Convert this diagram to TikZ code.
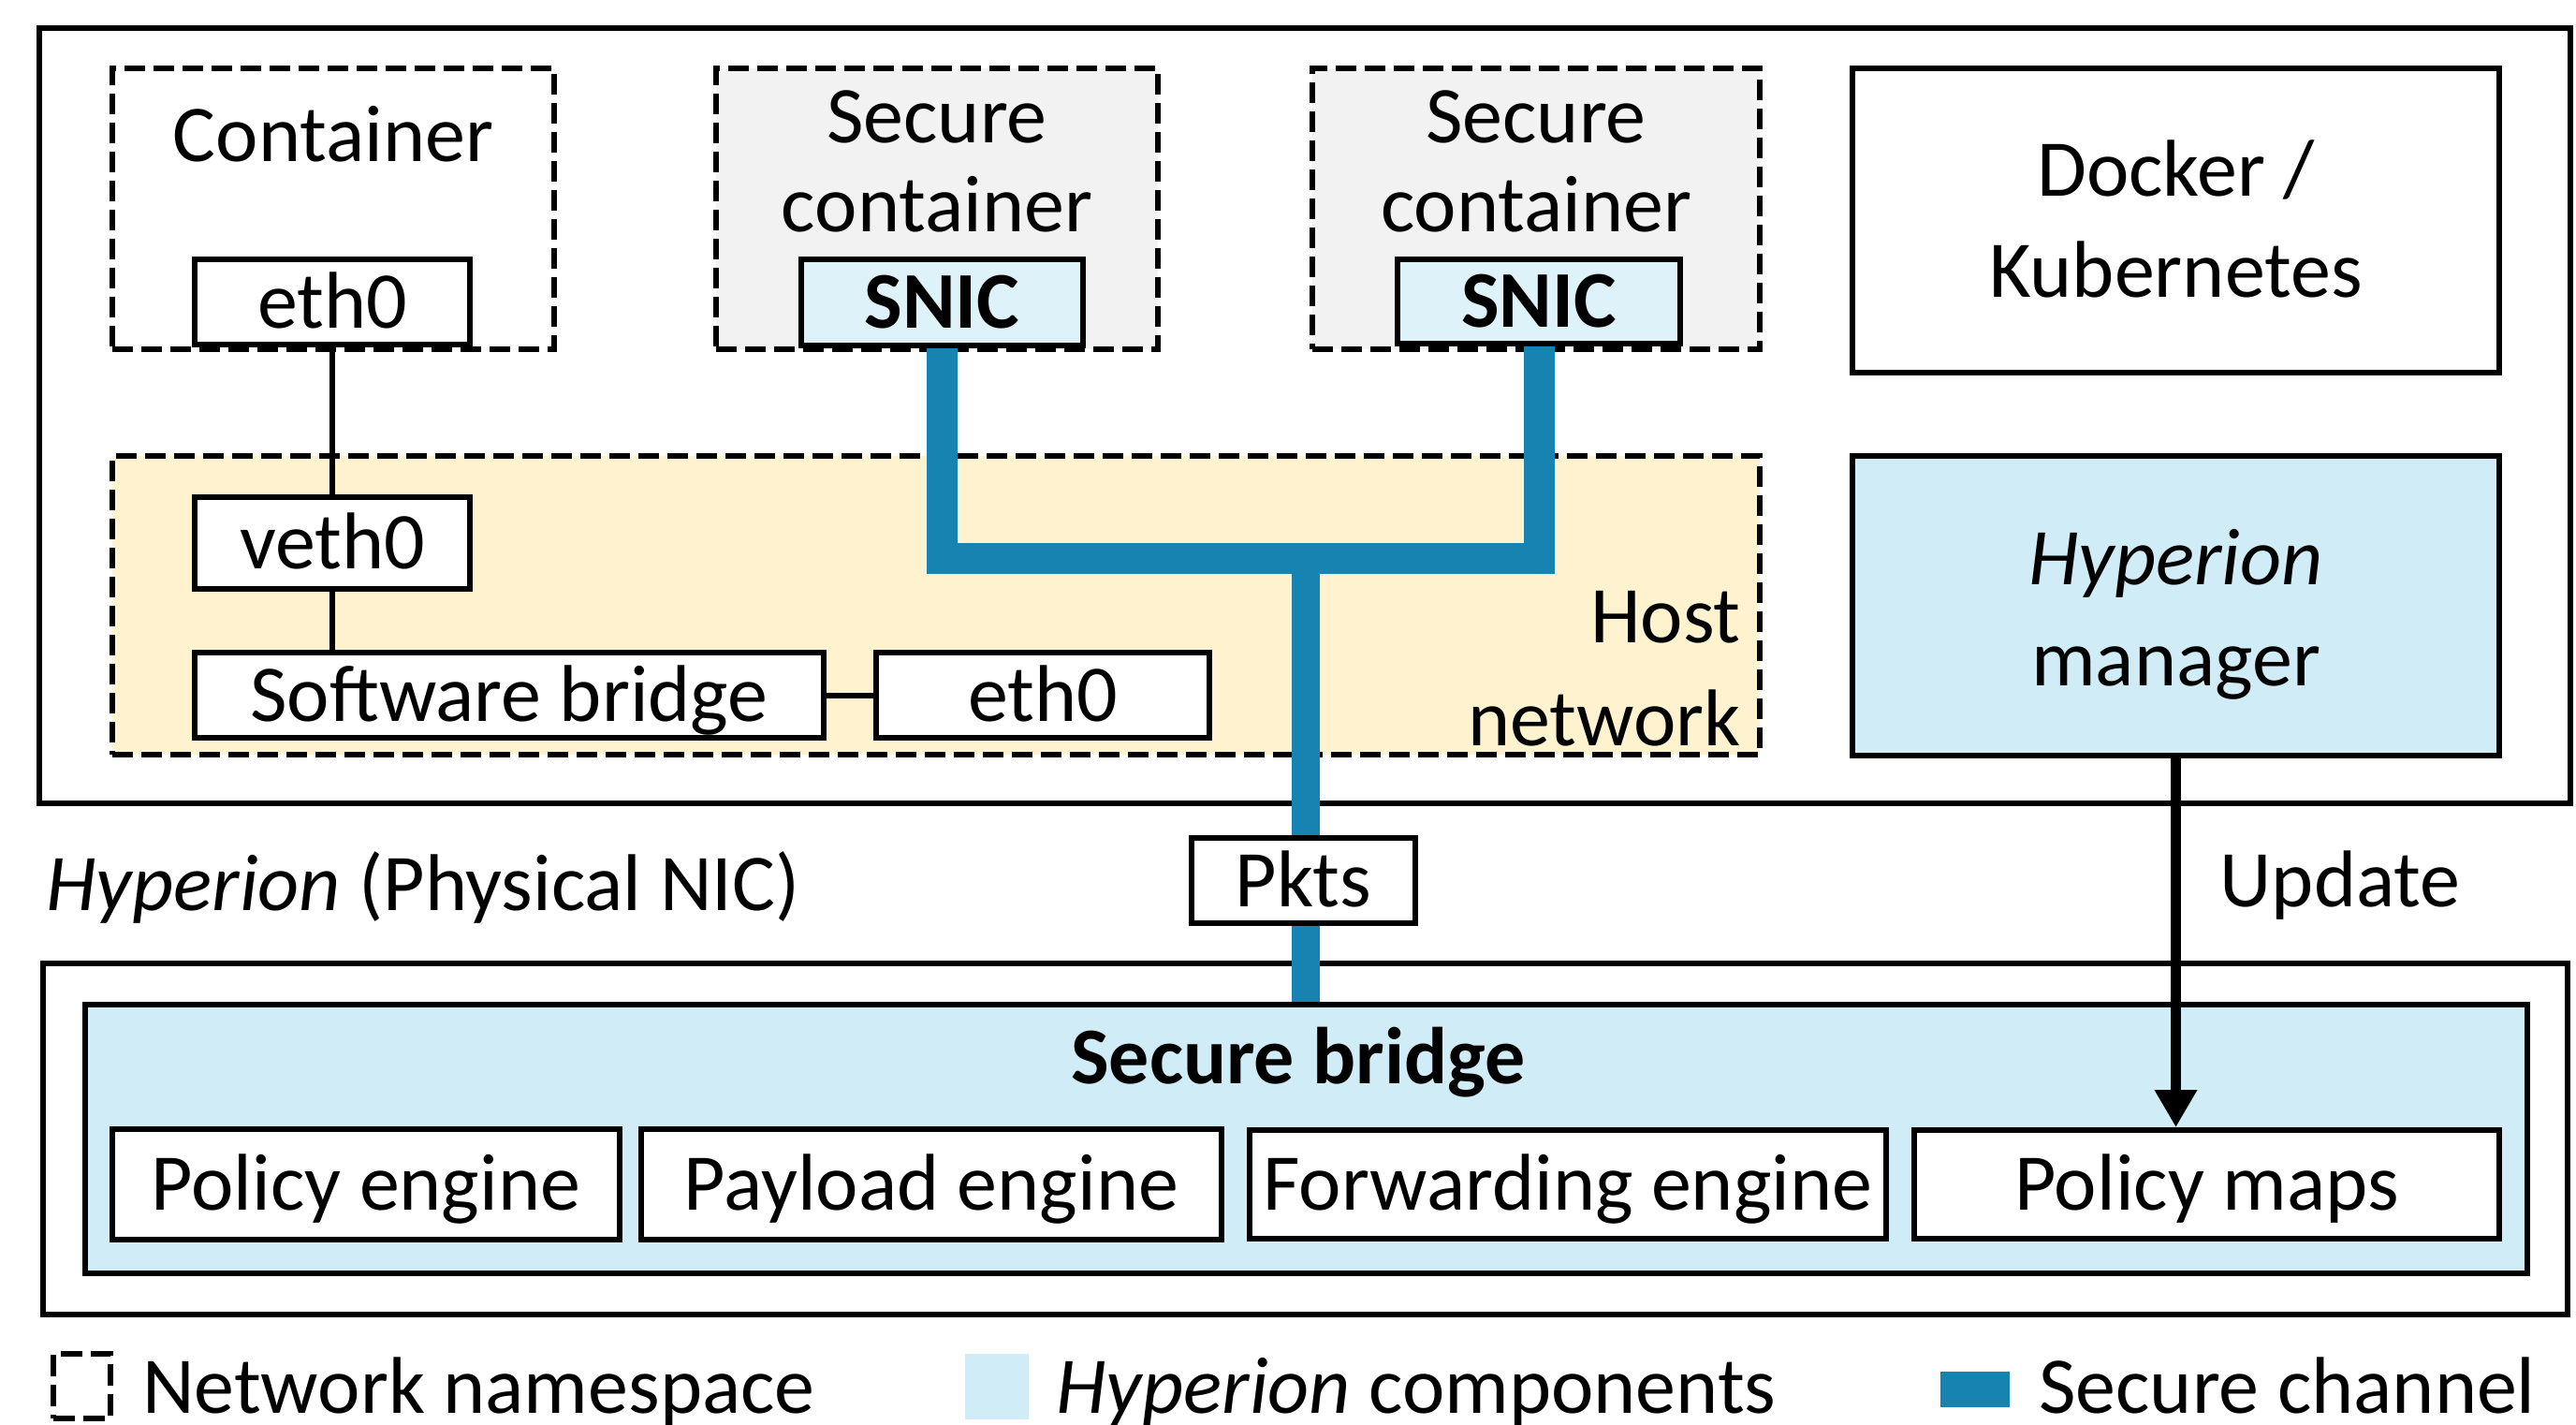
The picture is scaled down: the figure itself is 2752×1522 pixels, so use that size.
\documentclass[tikz,border=0pt]{standalone}
\usepackage{fontspec}
\setmainfont{Carlito}
\usetikzlibrary{arrows.meta}
\pgfdeclarelayer{bottom}
\pgfdeclarelayer{chanlayer}
\pgfsetlayers{bottom,chanlayer,main}
\definecolor{chanblue}{RGB}{23,131,176}
\definecolor{hyplight}{RGB}{208,236,247}
\definecolor{snicfill}{RGB}{222,242,250}
\definecolor{hostfill}{RGB}{255,242,206}
\definecolor{secgray}{RGB}{242,242,242}
\newcommand\fsz{\fontsize{86pt}{104pt}\selectfont}
\begin{document}
\begin{tikzpicture}[x=1pt,y=-1pt,
  box/.style={draw, line width=6pt, fill=white, inner sep=0pt, font=\fsz,
              text height=65pt, text depth=10pt},
  nsbox/.style={draw, line width=6pt, dash pattern=on 22pt off 9pt, inner sep=0pt},
  frame/.style={draw, line width=6pt, inner sep=0pt},
  lbl/.style={inner sep=0pt, font=\fsz},
  wire/.style={line width=6pt},
  chan/.style={line width=33pt, draw=chanblue, line join=miter},
  upd/.style={line width=11pt, -{Triangle[width=43pt,length=40pt]}},
]
\useasboundingbox (0,0) rectangle (2752,1522);

% host machine and NIC frames, namespaces
\begin{pgfonlayer}{bottom}
  \node[frame, minimum width=2704pt, minimum height=828pt] (host) at (1394,444) {};
  \node[frame, minimum width=2697pt, minimum height=375pt] (nic) at (1394.5,1216.5) {};
  \node[nsbox, fill=white, minimum width=472pt, minimum height=300pt] (cont) at (356,223) {};
  \node[nsbox, fill=secgray, minimum width=472pt, minimum height=300pt] (sc1) at (1001,223) {};
  \node[nsbox, fill=secgray, minimum width=478pt, minimum height=300pt] (sc2) at (1641,223) {};
  \node[nsbox, fill=hostfill, minimum width=1760pt, minimum height=319pt] (hostnet) at (1000,646.5) {};
\end{pgfonlayer}

% container interfaces and host network
\node[box, minimum width=294pt, minimum height=91pt] (eth0c) at (355,322.5) {eth0};
\node[box, fill=snicfill, font=\fsz\bfseries, minimum width=301pt, minimum height=92pt] (snic1) at (1006.5,323) {SNIC};
\node[box, fill=snicfill, font=\fsz\bfseries, minimum width=302pt, minimum height=90pt] (snic2) at (1644,322) {SNIC};
\node[box, minimum width=294pt, minimum height=98pt] (veth0) at (355,580) {veth0};
\node[box, minimum width=672pt, minimum height=91pt] (swbridge) at (544,742.5) {Software bridge};
\node[box, minimum width=356pt, minimum height=91pt] (eth0h) at (1114,742.5) {eth0};

% orchestration
\node[frame, fill=white, minimum width=691pt, minimum height=325pt] (docker) at (2324.5,235.5) {};
\node[frame, fill=hyplight, minimum width=691pt, minimum height=320pt] (manager) at (2324.5,647) {};

% secure bridge on the NIC
\node[frame, fill=hyplight, minimum width=2609pt, minimum height=287pt] (sbridge) at (1395.5,1216.5) {};
\node[box, minimum width=542pt, minimum height=118pt] (peng) at (391,1265) {Policy engine};
\node[box, minimum width=620pt, minimum height=118pt] (pyeng) at (995,1265) {Payload engine};
\node[box, minimum width=680pt, minimum height=116pt] (fweng) at (1675,1265) {Forwarding engine};
\node[box, minimum width=625pt, minimum height=116pt] (pmaps) at (2357.5,1265) {Policy maps};

% secure channel
\coordinate (junction) at (1395,596);
\begin{pgfonlayer}{chanlayer}
  \draw[chan] (snic1.south) -- (snic1.south |- junction) -- (snic2.south |- junction) -- (snic2.south);
  \draw[chan, line width=30pt] (junction) -- (junction |- sbridge.north);
\end{pgfonlayer}
\node[box, minimum width=239pt, minimum height=91pt] (pkts) at (1392.5,940.5) {Pkts};

% plain links
\draw[wire] (eth0c.south) -- (veth0.north);
\draw[wire] (veth0.south) -- (veth0.south |- swbridge.north);
\draw[wire] (swbridge.east) -- (eth0h.west);
\draw[upd] (manager.south) -- (manager.south |- pmaps.north);

% labels
\node[lbl, anchor=base] (tcont) at (356,173) {Container};
\node[lbl, anchor=base] (tsc1a) at (1001,153) {Secure};
\node[lbl, anchor=base] (tsc1b) at (1001,248) {container};
\node[lbl, anchor=base] (tsc2a) at (1641,153) {Secure};
\node[lbl, anchor=base] (tsc2b) at (1641,248) {container};
\node[lbl, anchor=base] (tdock1) at (2324.5,210) {Docker /};
\node[lbl, anchor=base] (tdock2) at (2324.5,318) {Kubernetes};
\node[lbl, anchor=base] (tman1) at (2324.5,624) {\itshape Hyperion};
\node[lbl, anchor=base] (tman2) at (2324.5,732) {manager};
\node[lbl, anchor=base east] (thost1) at (1860,686) {Host};
\node[lbl, anchor=base east] (thost2) at (1860,796) {network};
\node[lbl, anchor=base] (tupd) at (2500,968) {Update};
\node[lbl, anchor=base west] (tnic) at (49,972) {\itshape Hyperion\upshape{} (Physical NIC)};
\node[lbl, anchor=base, font=\fsz\bfseries] (tsb) at (1387,1157) {Secure bridge};

% legend
\node[nsbox, dash pattern=on 23pt off 9pt, minimum width=61pt, minimum height=69pt] (legns) at (87.5,1480.5) {};
\node[lbl, anchor=base west] (tlegns) at (152,1509) {Network namespace};
\node[fill=hyplight, inner sep=0pt, minimum width=68pt, minimum height=70pt] (leghyp) at (1065,1481) {};
\node[lbl, anchor=base west] (tleghyp) at (1128,1509) {\itshape Hyperion\upshape{} components};
\node[fill=chanblue, inner sep=0pt, minimum width=74pt, minimum height=38pt] (legchan) at (2110,1484) {};
\node[lbl, anchor=base west] (tlegchan) at (2178,1509) {Secure channel};
\end{tikzpicture}
\end{document}
